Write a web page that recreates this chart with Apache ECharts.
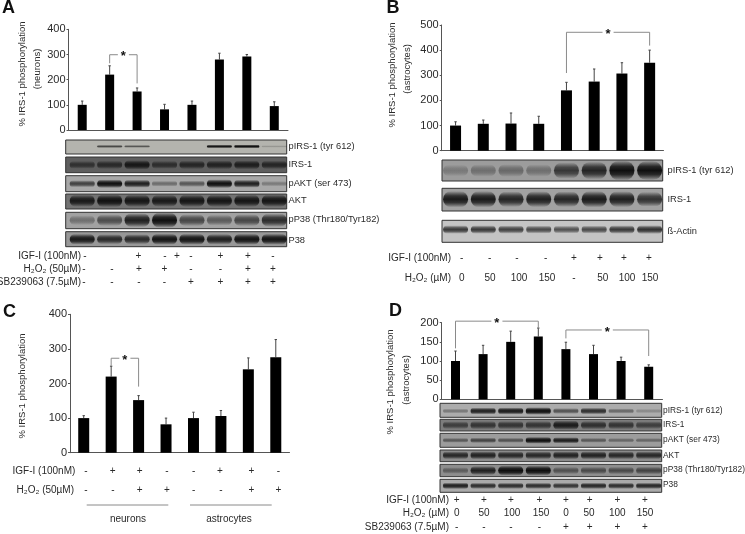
<!DOCTYPE html>
<html><head><meta charset="utf-8">
<style>html,body{margin:0;padding:0;background:#fff}#c{width:745px;height:534px;filter:blur(0.4px)}</style>
<script src="https://cdn.jsdelivr.net/npm/echarts@6/dist/echarts.min.js"></script>
</head><body><div id="c"></div>
<script>
// ---- data ----
const lanes = ['1','2','3','4','5','6','7','8'];
const valuesA = [100,220,153,82,100,280,292,95];
const topsA   = [115,255,167,102,115,305,300,112];
const valuesB = [100,107,108,107,240,275,307,350];
const topsB   = [115,122,150,137,272,325,350,400];
const valuesC = [100,220,152,82,100,106,241,276];
const topsC   = [107,250,165,100,117,122,274,327];
const valuesD = [100,118,150,164,131,118,100,85];
const topsD   = [126,141,178,186,149,141,110,90];
// brackets: left lane, right lane, top value, left foot value, right foot value
const bracketsA = [[1,2,299,265,185]];
const bracketsB = [[4,7,471,309,418]];
const bracketsC = [[1,2,273,251,191]];
const bracketsD = [[0,3,204,133,185],[4,7,181,159,113]];
// blot band intensities, lane by lane
const blotA_pIRS = [0,.55,.45,0,0,.9,1,.03];
const blotA_IRS  = [.45,.55,.8,.5,.6,.65,.7,.6];
const blotA_pAKT = [.55,.95,.8,.25,.4,1,.8,.15];
const blotA_AKT  = [.8,.9,.85,.8,.85,.85,.85,.85];
const blotA_pP38 = [.2,.45,.8,1,.5,.35,.5,.7];
const blotA_P38  = [.85,.7,.7,.9,.9,.8,.9,.9];
const blotB_pIRS = [.1,.18,.22,.18,.6,.75,1,.95];
const blotB_IRS  = [.85,.85,.75,.8,.75,.85,.8,.65];
const blotB_Act  = [.65,.65,.6,.55,.5,.55,.65,.7];
const blotD_pIRS = [.2,.8,.85,1,.45,.7,.3,.08];
const blotD_IRS  = [.45,.55,.55,.55,.8,.6,.55,.45];
const blotD_pAKT = [.35,.5,.4,.95,.8,.35,.25,.25];
const blotD_AKT  = [.7,.75,.7,.7,.75,.75,.7,.7];
const blotD_pP38 = [.25,.75,1,.95,.35,.4,.4,.45];
const blotD_P38  = [.8,.7,.7,.7,.65,.75,.7,.75];
// row signs and doses
const rowA1 = ['-','+','-','+','-','+','+','-'];
const rowA2 = ['-','-','+','+','-','-','+','+'];
const rowA3 = ['-','-','-','-','+','+','+','+'];
const rowB1 = ['-','-','-','-','+','+','+','+'];
const rowB2 = ['0','50','100','150','-','50','100','150'];
const rowC1 = ['-','+','+','-','-','+','+','-'];
const rowC2 = ['-','-','+','+','-','-','+','+'];
const rowD1 = ['+','+','+','+','+','+','+','+'];
const rowD2 = ['0','50','100','150','0','50','100','150'];
const rowD3 = ['-','-','-','-','+','+','+','+'];

// ---- layout ----
const FONT='"Liberation Sans", Arial, sans-serif', INK='#2a2a2a', AXIS='#555', GRAY='#8a8a8a';
const charts=[
 {left:68.5,right:288,top:29.3,bottom:130,max:400,step:100,bw:9,v:valuesA,t:topsA,br:bracketsA},
 {left:441.7,right:663.5,top:25,bottom:150.7,max:500,step:100,bw:11,v:valuesB,t:topsB,br:bracketsB},
 {left:70,right:289.5,top:314.3,bottom:452.7,max:400,step:100,bw:11,v:valuesC,t:topsC,br:bracketsC},
 {left:441.7,right:662.5,top:322.7,bottom:399.3,max:200,step:50,bw:9,v:valuesD,t:topsD,br:bracketsD}
];
const grid=[],xAxis=[],yAxis=[],series=[];
charts.forEach((c,i)=>{
  grid.push({left:c.left,top:c.top,width:c.right-c.left,height:c.bottom-c.top});
  xAxis.push({gridIndex:i,type:'category',data:lanes,axisLabel:{show:false},axisTick:{show:false},
    axisLine:{lineStyle:{color:AXIS,width:1}},splitLine:{show:false}});
  yAxis.push({gridIndex:i,type:'value',min:0,max:c.max,interval:c.step,splitLine:{show:false},
    axisLine:{show:true,lineStyle:{color:AXIS,width:1}},axisTick:{show:true,length:2,lineStyle:{color:AXIS}},
    axisLabel:{fontFamily:FONT,fontSize:11,color:INK,margin:3}});
  series.push({type:'bar',xAxisIndex:i,yAxisIndex:i,data:c.v,barWidth:c.bw,itemStyle:{color:'#000'},silent:true,z:3});
  series.push({type:'custom',xAxisIndex:i,yAxisIndex:i,silent:true,z:2,data:c.v.map((v,k)=>[k,v,c.t[k]]),
    encode:{x:0,y:[1,2]},
    renderItem:(p,api)=>{const a=api.coord([api.value(0),api.value(1)]),b=api.coord([api.value(0),api.value(2)]);
      const st={stroke:'#444',lineWidth:1,fill:null};
      return {type:'group',children:[
        {type:'line',shape:{x1:a[0],y1:a[1],x2:b[0],y2:b[1]},style:st},
        {type:'line',shape:{x1:b[0]-1.2,y1:b[1],x2:b[0]+1.2,y2:b[1]},style:st}]};}});
  series.push({type:'custom',xAxisIndex:i,yAxisIndex:i,silent:true,z:4,data:c.br,
    encode:{x:[0,1],y:[2,3,4]},
    renderItem:(p,api)=>{const L=api.value(0),R=api.value(1);
      const a=api.coord([L,api.value(3)]),b=api.coord([L,api.value(2)]),d=api.coord([R,api.value(2)]),e=api.coord([R,api.value(4)]);
      const mx=(b[0]+d[0])/2;
      return {type:'group',children:[
        {type:'polyline',shape:{points:[a,b,d,e]},style:{stroke:GRAY,lineWidth:1,fill:null}},
        {type:'text',x:mx,y:b[1]+2,style:{text:'*',font:'bold 13px '+FONT,fill:'#111',align:'center',verticalAlign:'middle',
          backgroundColor:'#fff',padding:[0,3,0,3]}}]};}});
});

// blot panels: chart index, x1, x2, y1, y2, background, intensities, relative band height, band centre
const panels=[
 [0,65.7,286.7,140,154,'#b4b4ae',blotA_pIRS,.24,.46],
 [0,65.7,286.7,157,172.7,'#5e5e5e',blotA_IRS,.6,.5],
 [0,65.7,286.7,175.7,191.7,'#a8a8a8',blotA_pAKT,.5,.5],
 [0,65.7,286.7,194,209,'#737373',blotA_AKT,.8,.45],
 [0,65.7,286.7,212.3,228.7,'#a2a2a2',blotA_pP38,.85,.48],
 [0,65.7,286.7,231.7,246.7,'#989898',blotA_P38,.7,.5],
 [1,442,662.7,160,181,'#9c9c9c',blotB_pIRS,.85,.5],
 [1,442,662.7,188.3,211,'#a2a2a2',blotB_IRS,.7,.48],
 [1,442,662.7,220.3,242.3,'#c4c4c4',blotB_Act,.42,.42],
 [3,440,661.7,403.3,417.3,'#acacac',blotD_pIRS,.5,.55],
 [3,440,661.7,419.3,431,'#7c7c7c',blotD_IRS,.8,.5],
 [3,440,661.7,433.3,447.3,'#9c9c9c',blotD_pAKT,.45,.5],
 [3,440,661.7,450,461.7,'#8c8c8c',blotD_AKT,.7,.45],
 [3,440,661.7,464.3,476.7,'#8e8e8e',blotD_pP38,.75,.5],
 [3,440,661.7,479.3,492.3,'#aaaaaa',blotD_P38,.5,.5]
];
panels.forEach(pn=>{
  const [ci,x1,x2,y1,y2,bg,vals,rel,cen]=pn, h=y2-y1, cy=y1+h*cen;
  series.push({type:'custom',xAxisIndex:ci,yAxisIndex:ci,silent:true,z:1,clip:false,
    data:vals.map((v,k)=>[k,v]),encode:{x:0},
    renderItem:(p,api)=>{
      const x=api.coord([api.value(0),0])[0], s=api.value(1), kids=[];
      if(p.dataIndex===0) kids.push({type:'rect',shape:{x:x1,y:y1,width:x2-x1,height:y2-y1},
        style:{fill:bg,stroke:'#333',lineWidth:1}});
      const bh=Math.max(2.5,h*rel*(.6+.5*s)), bw=25;
      if(s>0.02){
        const a=Math.min(.95,.15+.85*s);
        kids.push({type:'rect',shape:{x:x-bw/2,y:cy-bh/2,width:bw,height:bh,r:bh/2},
          style:{shadowBlur:2,shadowColor:'rgba(0,0,0,'+(.25*s)+')',
            fill:{type:'linear',x:0,y:0,x2:0,y2:1,colorStops:[
            {offset:0,color:'rgba(10,10,10,0)'},{offset:.3,color:'rgba(10,10,10,'+(a*.8)+')'},
            {offset:.5,color:'rgba(10,10,10,'+a+')'},{offset:.7,color:'rgba(10,10,10,'+(a*.8)+')'},
            {offset:1,color:'rgba(10,10,10,0)'}]}}});
      }
      return {type:'group',children:kids};
    }});
});

// ---- text ----
const g=[];
function txt(t,x,y,o){o=o||{};g.push({type:'text',x:x,y:y,rotation:o.rot||0,silent:true,z:10,style:{text:t,fontFamily:FONT,
  fontSize:o.size||10,fontWeight:o.weight||'normal',fill:o.fill||INK,align:o.align||'center',verticalAlign:'middle'}});}
function vert(t,x,y,size){txt(t,x,y,{rot:Math.PI/2,size:size||9.5});}
function row(label,labelX,y,tokens,xs){txt(label,labelX,y,{align:'right'});
  tokens.forEach((k,i)=>txt(k,xs[i],y));}

txt('A',8.5,8,{size:18,weight:'bold',fill:'#111'});
txt('B',393,8,{size:18,weight:'bold',fill:'#111'});
txt('C',9.5,312,{size:18,weight:'bold',fill:'#111'});
txt('D',395.5,311,{size:18,weight:'bold',fill:'#111'});

vert('% IRS-1 phosphorylation',22,74);
vert('(neurons)',37.5,69);
vert('% IRS-1 phosphorylation',392,75);
vert('(astrocytes)',407,69);
vert('% IRS-1 phosphorylation',22.5,386);
vert('% IRS-1 phosphorylation',390,382);
vert('(astrocytes)',406.5,380);

[['pIRS-1 (tyr 612)',146],['IRS-1',164.5],['pAKT (ser 473)',183],['AKT',200.5],['pP38 (Thr180/Tyr182)',219],['P38',240]]
  .forEach(a=>txt(a[0],288.5,a[1],{align:'left',size:9.3}));
[['pIRS-1 (tyr 612)',170],['IRS-1',199],['ß-Actin',231]].forEach(a=>txt(a[0],667.5,a[1],{align:'left',size:9.3}));
[['pIRS-1 (tyr 612)',410.7],['IRS-1',425],['pAKT (ser 473)',439.7],['AKT',455.3],['pP38 (Thr180/Tyr182)',470],['P38',485]]
  .forEach(a=>txt(a[0],663,a[1],{align:'left',size:8.4}));

row('IGF-I (100nM)',81,256,rowA1,[85,138.5,165,177,191,220.5,248,273]);
const xA=[84,112,139,164.5,191,220.5,248,273];
row('H₂O₂ (50µM)',81,269.3,rowA2,xA);
row('SB239063 (7.5µM)',81,282.3,rowA3,xA);

row('IGF-I (100nM)',451,258,rowB1,[461.7,489.7,517,545.7,574,600,624,649]);
row('H₂O₂ (µM)',451,278,rowB2,[461.7,490,519,547,574,602.7,627,650]);

row('IGF-I (100nM)',75.3,471,rowC1,[86,112.7,139.7,167,193.7,220,251.3,278.3]);
row('H₂O₂ (50µM)',74,490,rowC2,[86,113,139.7,167,193.7,221,251.3,278.3]);
[[86.7,168.3],[190,271.7]].forEach(l=>g.push({type:'line',silent:true,shape:{x1:l[0],y1:505,x2:l[1],y2:505},style:{stroke:GRAY,lineWidth:1}}));
txt('neurons',128,519.5);
txt('astrocytes',229,519.5);

const xD=[456.7,484,511,539.3,566,589.7,617.3,645];
row('IGF-I (100nM)',449,500,rowD1,xD);
row('H₂O₂ (µM)',449,513.3,rowD2,[456.7,484,512,541,566,589,617.3,645]);
row('SB239063 (7.5µM)',449,527.7,rowD3,xD);

const chart=echarts.init(document.getElementById('c'),null,{renderer:'canvas'});
chart.setOption({animation:false,backgroundColor:'#fff',grid,xAxis,yAxis,series,graphic:g});
</script></body></html>
